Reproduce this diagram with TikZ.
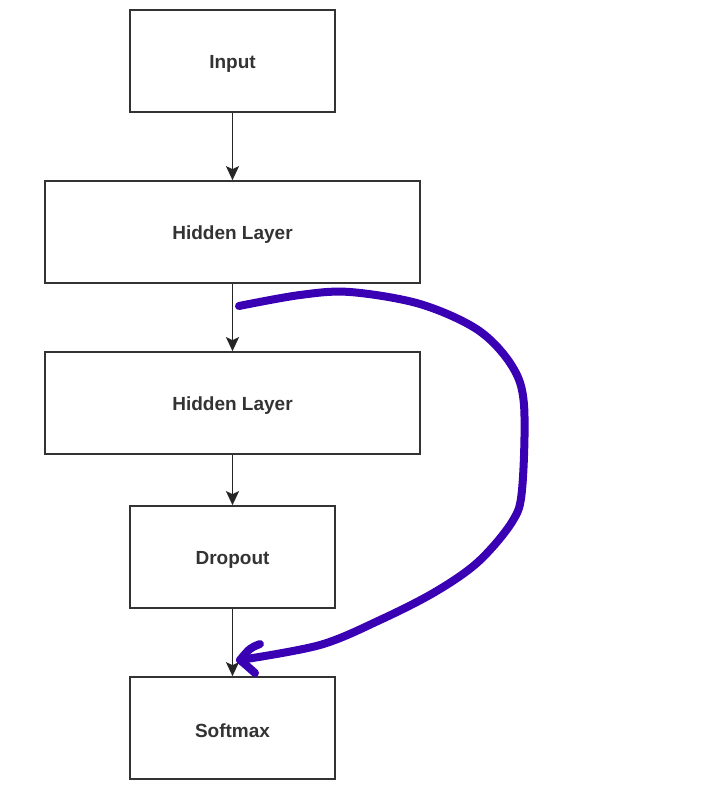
\documentclass[tikz,border=0pt]{standalone}
\usepackage{fontspec}
\setmainfont{Liberation Sans}
\usetikzlibrary{arrows.meta}
\definecolor{boxline}{HTML}{333333}
\definecolor{txt}{HTML}{333333}
\definecolor{pen}{HTML}{3A00B4}
\begin{document}
\begin{tikzpicture}[x=1pt,y=-1pt,
  layerbox/.style={draw=boxline,line width=1.7pt,fill=white,inner sep=0pt,
    font=\fontsize{19}{22}\selectfont\bfseries,text=txt},
  lbl/.style={font=\fontsize{19}{22}\selectfont\bfseries,text=txt,inner sep=0pt},
  flow/.style={draw=black!85,line width=1.9pt,-{Stealth[length=14pt,width=13pt,inset=3pt]}},
  ink/.style={draw=pen,line width=8pt,line cap=round,line join=round}]
\fill[white] (0,0) rectangle (713,793);
\node[layerbox,minimum width=205pt,minimum height=102pt] (in) at (232.5,61) {};
\node[layerbox,minimum width=375pt,minimum height=102pt] (h1) at (232.5,232) {};
\node[layerbox,minimum width=375pt,minimum height=102pt] (h2) at (232.5,403) {};
\node[layerbox,minimum width=205pt,minimum height=102pt] (dr) at (232.5,557) {};
\node[layerbox,minimum width=205pt,minimum height=102pt] (sm) at (232.5,728) {};
\node[lbl] (inl) at ([yshift=-3pt]in.center) {Input};
\node[lbl] (h1l) at ([yshift=-3pt]h1.center) {Hidden Layer};
\node[lbl] (h2l) at ([yshift=-3pt]h2.center) {Hidden Layer};
\node[lbl] (drl) at ([yshift=-3pt]dr.center) {Dropout};
\node[lbl] (sml) at ([yshift=-3pt]sm.center) {Softmax};
\draw[flow] (in) -- (h1);
\draw[flow] (h1) -- (h2);
\draw[flow] (h2) -- (dr);
\draw[flow] (dr) -- (sm);
\coordinate (s) at (239,306);
\coordinate (t) at (240,660);
\draw[ink] plot[smooth,tension=0.55] coordinates {(s) (300,295) (350,292) (420,304) (478,330) (512,366) (524,405) (522,490) (512,522) (478,562) (435,592) (380,620) (320,645) (t)};
\draw[ink] (260,644) .. controls (250,648) .. (t) .. controls (246,665) .. (255,673);
\end{tikzpicture}
\end{document}
